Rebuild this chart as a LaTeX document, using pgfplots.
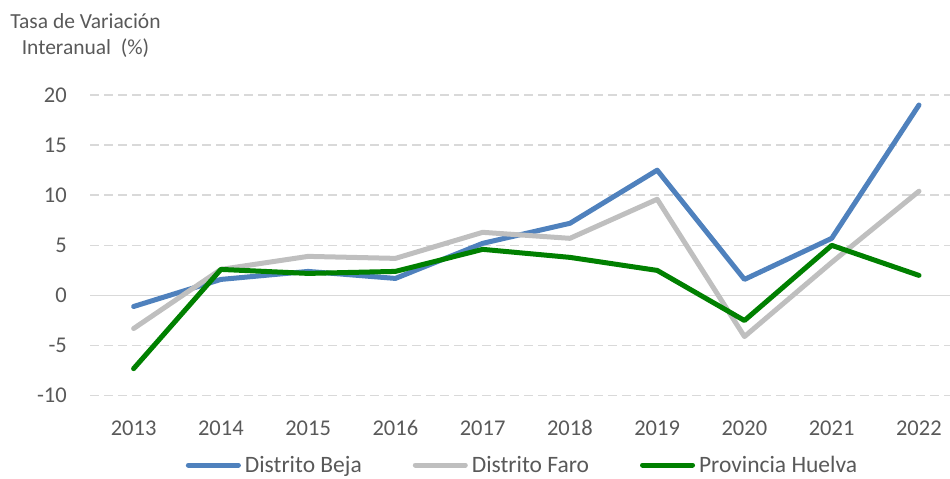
\documentclass[border=0pt]{standalone}
\usepackage{fontspec}
\setmainfont{Carlito}
\usepackage{pgfplots}
\pgfplotsset{compat=1.18}
\definecolor{beja}{HTML}{4F81BD}
\definecolor{faro}{HTML}{BFBFBF}
\definecolor{huelva}{HTML}{008000}
\definecolor{txt}{HTML}{595959}
\definecolor{gridc}{HTML}{D9D9D9}
\begin{document}
\begin{tikzpicture}[x=1pt,y=1pt]
\useasboundingbox (0,0) rectangle (950,479);
\node[align=center, text=txt, font=\fontsize{21.5}{26}\selectfont, anchor=north, inner sep=0] at (85.5,466) {Tasa de Variación\\Interanual~~(\%)};
\begin{axis}[
  at={(90pt,83.3pt)}, anchor=south west,
  scale only axis, width=863pt, height=300.7pt,
  xmin=2012.5, xmax=2022.39, ymin=-10, ymax=20,
  xtick={2013,...,2022},
  xticklabels={2013,2014,2015,2016,2017,2018,2019,2020,2021,2022},
  ytick={-10,-5,0,5,10,15,20},
  yticklabels={-10,-5,0,5,10,15,20},
  axis line style={draw=none},
  major tick length=0pt,
  tick label style={font=\fontsize{22.5}{27}\selectfont, text=txt},
  xticklabel style={anchor=base, yshift=-40pt, inner sep=0pt},
  yticklabel style={anchor=east, xshift=-23pt, inner sep=0pt},
  ymajorgrids,
  major grid style={draw=gridc, line width=1.5pt, dash pattern=on 8.5pt off 5.5pt},
  clip=false,
  legend columns=3,
  legend style={draw=none, fill=none, at={(0.5,-0.2305)}, anchor=center, inner sep=0pt,
    font=\fontsize{23.5}{28}\selectfont, text=txt,
    nodes={inner sep=0pt},
    /tikz/every odd column/.append style={column sep=4pt},
    /tikz/every even column/.append style={column sep=51pt}},
  legend image code/.code={\draw[#1, line width=5pt, line cap=round] (2.5pt,0pt) -- (52.5pt,0pt);},
  every axis plot/.append style={line width=5pt, line join=round, line cap=round},
]
\draw[gridc, line width=1.5pt] (axis cs:2012.5,0) -- (axis cs:2022.39,0);
\addplot[beja] coordinates {(2013,-1.1)(2014,1.6)(2015,2.4)(2016,1.7)(2017,5.2)(2018,7.2)(2019,12.5)(2020,1.6)(2021,5.7)(2022,19.0)};
\addlegendentry{Distrito Beja}
\addplot[faro] coordinates {(2013,-3.3)(2014,2.6)(2015,3.9)(2016,3.7)(2017,6.3)(2018,5.7)(2019,9.6)(2020,-4.1)(2021,3.3)(2022,10.4)};
\addlegendentry{Distrito Faro}
\addplot[huelva] coordinates {(2013,-7.3)(2014,2.6)(2015,2.2)(2016,2.4)(2017,4.6)(2018,3.8)(2019,2.5)(2020,-2.5)(2021,5.0)(2022,2.0)};
\addlegendentry{Provincia Huelva}
\end{axis}
\end{tikzpicture}
\end{document}
